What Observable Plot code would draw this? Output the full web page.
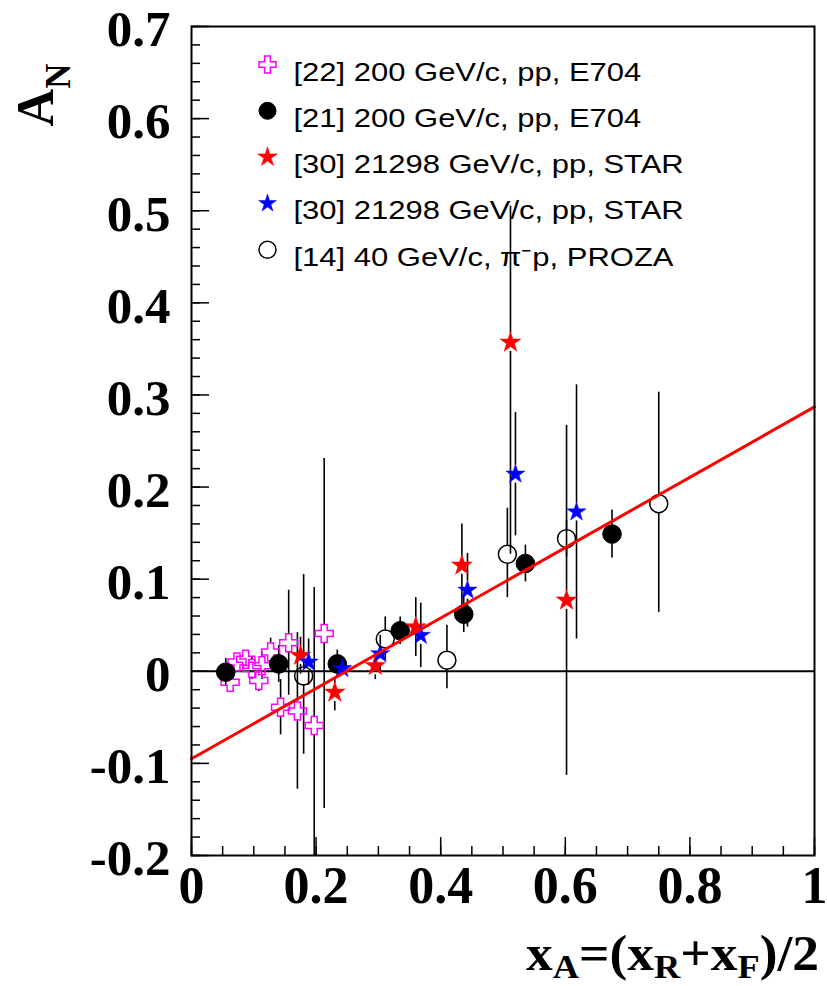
<!DOCTYPE html>
<html>
<head>
<meta charset="utf-8">
<script src="https://cdn.jsdelivr.net/npm/d3@7"></script>
<script src="https://cdn.jsdelivr.net/npm/@observablehq/plot@0.6"></script>
<style>
  html, body { margin: 0; padding: 0; background: #fff; overflow: hidden; }
  svg { display: block; }
</style>
</head>
<body>
<div id="chart"></div>
<script>
// ---------------- data ----------------
// [22] 200 GeV/c, pp, E704 (open magenta crosses)
const e704aX   = [0.062, 0.073, 0.087, 0.097, 0.108, 0.113, 0.127, 0.156, 0.143, 0.170, 0.197, 0.213];
const e704aY   = [-0.012, 0.010, 0.013, 0.003, -0.010, 0.006, 0.021, 0.031, -0.039, -0.043, -0.059, 0.041];
const e704aErr = [0.010, 0.010, 0.010, 0.012, 0.012, 0.015, 0.015, 0.057, 0.030, 0.085, 0.150, 0.190];

// [21] 200 GeV/c, pp, E704 (filled black circles)
const e704bX   = [0.055, 0.140, 0.234, 0.335, 0.437, 0.536, 0.675];
const e704bY   = [-0.001, 0.008, 0.008, 0.044, 0.062, 0.117, 0.149];
const e704bErr = [0.015, 0.020, 0.015, 0.015, 0.020, 0.020, 0.026];

// [30] STAR (red stars)
const starRedX     = [0.175, 0.230, 0.295, 0.360, 0.434, 0.512, 0.602];
const starRedY     = [0.017, -0.023, 0.006, 0.048, 0.115, 0.357, 0.077];
const starRedErrHi = [0.020, 0.015, 0.015, 0.032, 0.045, 0.148, 0.190];
const starRedErrLo = [0.020, 0.020, 0.015, 0.032, 0.045, 0.230, 0.190];

// [30] STAR (blue stars)
const starBlueX   = [0.188, 0.242, 0.303, 0.368, 0.443, 0.520, 0.618];
const starBlueY   = [0.010, 0.003, 0.019, 0.039, 0.088, 0.214, 0.173];
const starBlueErr = [0.025, 0.010, 0.020, 0.035, 0.040, 0.067, 0.138];

// [14] 40 GeV/c, pi- p, PROZA (open black circles)
const prozaX     = [0.180, 0.311, 0.410, 0.507, 0.602, 0.750];
const prozaY     = [-0.005, 0.035, 0.012, 0.127, 0.144, 0.182];
const prozaErrHi = [0.110, 0.024, 0.038, 0.050, 0.020, 0.121];
const prozaErrLo = [0.085, 0.023, 0.031, 0.047, 0.020, 0.118];

// linear fit (end points)
const fitX = [0, 1];
const fitY = [-0.095, 0.287];

// axes
const xTicks = [0, 0.2, 0.4, 0.6, 0.8, 1];
const yTicks = [-0.2, -0.1, 0, 0.1, 0.2, 0.3, 0.4, 0.5, 0.6, 0.7];
const legendLabels = [
  "[22] 200 GeV/c, pp, E704",
  "[21] 200 GeV/c, pp, E704",
  "[30] 21298 GeV/c, pp, STAR",
  "[30] 21298 GeV/c, pp, STAR",
  "[14] 40 GeV/c, \u03C0\u207Bp, PROZA"
];

// ---------------- build ----------------
const rows = (xs, ys, lo, hi) => xs.map((x, i) => ({x, y: ys[i], lo: lo[i], hi: (hi || lo)[i]}));
const crossRows = rows(e704aX, e704aY, e704aErr);
const dotRows   = rows(e704bX, e704bY, e704bErr);
const redRows   = rows(starRedX, starRedY, starRedErrLo, starRedErrHi);
const blueRows  = rows(starBlueX, starBlueY, starBlueErr);
const prozaRows = rows(prozaX, prozaY, prozaErrLo, prozaErrHi);
const fitRows   = fitX.map((x, i) => ({x, y: fitY[i]}));
const allRows = [...crossRows, ...dotRows, ...redRows, ...blueRows, ...prozaRows];

const W = 827, H = 986, mL = 191, mR = 13, mT = 26, mB = 131;
const plotW = W - mL - mR, plotH = H - mT - mB;
const pxPerY = plotH / 0.9;
const GAP = 9;

const yMinor = d3.range(-20, 71, 2).map(v => v / 100);
const xMinor = d3.range(0, 101, 5).map(v => v / 100);

const openCross = {
  draw(ctx, size) {
    const r = Math.sqrt(size / Math.PI), a = r / 3;
    ctx.moveTo(-a, -r); ctx.lineTo(a, -r); ctx.lineTo(a, -a); ctx.lineTo(r, -a);
    ctx.lineTo(r, a); ctx.lineTo(a, a); ctx.lineTo(a, r); ctx.lineTo(-a, r);
    ctx.lineTo(-a, a); ctx.lineTo(-r, a); ctx.lineTo(-r, -a); ctx.lineTo(-a, -a);
    ctx.closePath();
  }
};

const fmt = d => d === 0 ? "0" : String(+d.toFixed(1));
const serif = "Liberation Serif, Times New Roman, serif";
const sans = "Liberation Sans, Arial, Helvetica, sans-serif";

const legendStyles = [
  {symbol: openCross, r: 8.5, fill: "none", stroke: "#ff00ff", strokeWidth: 1.5},
  {symbol: "circle", r: 8.5, fill: "black", stroke: "black", strokeWidth: 1},
  {symbol: "star", r: 6.2, fill: "#ff0000", stroke: "#ff0000", strokeWidth: 0.5},
  {symbol: "star", r: 5.6, fill: "#0000ff", stroke: "#0000ff", strokeWidth: 0.5},
  {symbol: "circle", r: 8.5, fill: "none", stroke: "black", strokeWidth: 1.5}
];
const legendMarks = [];
legendLabels.forEach((lab, i) => {
  legendMarks.push(Plot.dot([lab], {frameAnchor: "top-left", dx: 76, dy: 38 + i * 46.3, ...legendStyles[i]}));
  legendMarks.push(Plot.text([lab], {frameAnchor: "top-left", dx: 102, dy: 54 + i * 46.3, text: d => d,
    textAnchor: "start", lineAnchor: "bottom", fontSize: 25.6, fontFamily: sans, fill: "black"}));
});

const chart = Plot.plot({
  width: W, height: H,
  marginLeft: mL, marginRight: mR, marginTop: mT, marginBottom: mB,
  style: {background: "white", fontFamily: serif, color: "black"},
  x: {domain: [0, 1], axis: null},
  y: {domain: [-0.2, 0.7], axis: null},
  marks: [
    // zero line
    Plot.ruleY([0], {stroke: "black", strokeWidth: 2}),
    // minor and major ticks (inside frame)
    Plot.ruleY(yMinor, {y: d => d, insetRight: plotW - 9, stroke: "black", strokeWidth: 1.5}),
    Plot.ruleY(yTicks, {y: d => d, insetRight: plotW - 18, stroke: "black", strokeWidth: 1.5}),
    Plot.ruleX(xMinor, {x: d => d, insetTop: plotH - 9, stroke: "black", strokeWidth: 1.5}),
    Plot.ruleX(xTicks, {x: d => d, insetTop: plotH - 18, stroke: "black", strokeWidth: 1.5}),
    // tick labels
    Plot.axisY(yTicks, {tickSize: 0, tickPadding: 21, dy: 3.5, tickFormat: fmt, fontSize: 51, fontWeight: "bold", fontFamily: serif, label: null}),
    Plot.axisX(xTicks, {tickSize: 0, tickPadding: 11, tickFormat: fmt, fontSize: 52, fontWeight: "bold", fontFamily: serif, label: null}),
    // error bars (with a gap around the marker)
    Plot.ruleX(allRows.filter(d => d.hi * pxPerY > GAP + 1), {x: "x", y1: d => d.y + d.hi, y2: "y", insetBottom: GAP, stroke: "black", strokeWidth: 1.6, clip: true}),
    Plot.ruleX(allRows.filter(d => d.lo * pxPerY > GAP + 1), {x: "x", y1: "y", y2: d => d.y - d.lo, insetTop: GAP, stroke: "black", strokeWidth: 1.6, clip: true}),
    // markers
    Plot.dot(crossRows, {x: "x", y: "y", symbol: openCross, r: 9, fill: "none", stroke: "#ff00ff", strokeWidth: 1.5}),
    Plot.dot(dotRows, {x: "x", y: "y", symbol: "circle", r: 9.3, fill: "black", stroke: "black", strokeWidth: 1}),
    Plot.dot(redRows, {x: "x", y: "y", symbol: "star", r: 6.5, fill: "#ff0000", stroke: "#ff0000", strokeWidth: 0.5}),
    Plot.dot(blueRows, {x: "x", y: "y", symbol: "star", r: 6, fill: "#0000ff", stroke: "#0000ff", strokeWidth: 0.5}),
    Plot.dot(prozaRows, {x: "x", y: "y", symbol: "circle", r: 9, fill: "none", stroke: "black", strokeWidth: 1.5}),
    // fit line
    Plot.line(fitRows, {x: "x", y: "y", stroke: "#ff0000", strokeWidth: 3}),
    // legend
    ...legendMarks,
    // frame
    Plot.frame({stroke: "black", strokeWidth: 2})
  ]
});

document.getElementById("chart").append(chart);

const svg = d3.select(chart.tagName.toLowerCase() === "svg" ? chart : chart.querySelector("svg"));

// stretch legend text horizontally like the original
svg.selectAll("text").each(function () {
  const t = this.textContent || "";
  if (t.startsWith("[")) {
    const w = this.getComputedTextLength();
    this.setAttribute("textLength", (w * 1.21).toFixed(1));
    this.setAttribute("lengthAdjust", "spacingAndGlyphs");
  }
});

// y axis title: A_N (rotated)
const yt = svg.append("text")
  .attr("transform", "translate(53,95) rotate(-90)")
  .attr("font-family", serif).attr("font-weight", "bold").attr("font-size", 52).attr("fill", "black");
yt.append("tspan").text("A");
yt.append("tspan").attr("font-size", 35).attr("dy", 17).text("N");

// x axis title: x_A=(x_R+x_F)/2
const xt = svg.append("text")
  .attr("x", 819).attr("y", 970).attr("text-anchor", "end")
  .attr("font-family", serif).attr("font-weight", "bold").attr("font-size", 50).attr("fill", "black");
const parts = [["x", 0], ["A", 1], ["=(x", 0], ["R", 1], ["+x", 0], ["F", 1], [")/2", 0]];
let sub = 0;
parts.forEach(([s, isSub]) => {
  const ts = xt.append("tspan").text(s);
  if (isSub && !sub) { ts.attr("dy", 8).attr("font-size", 34); sub = 1; }
  else if (isSub) { ts.attr("font-size", 34); }
  else if (!isSub && sub) { ts.attr("dy", -8); sub = 0; }
});
xt.attr("textLength", 293).attr("lengthAdjust", "spacingAndGlyphs");
</script>
</body>
</html>
